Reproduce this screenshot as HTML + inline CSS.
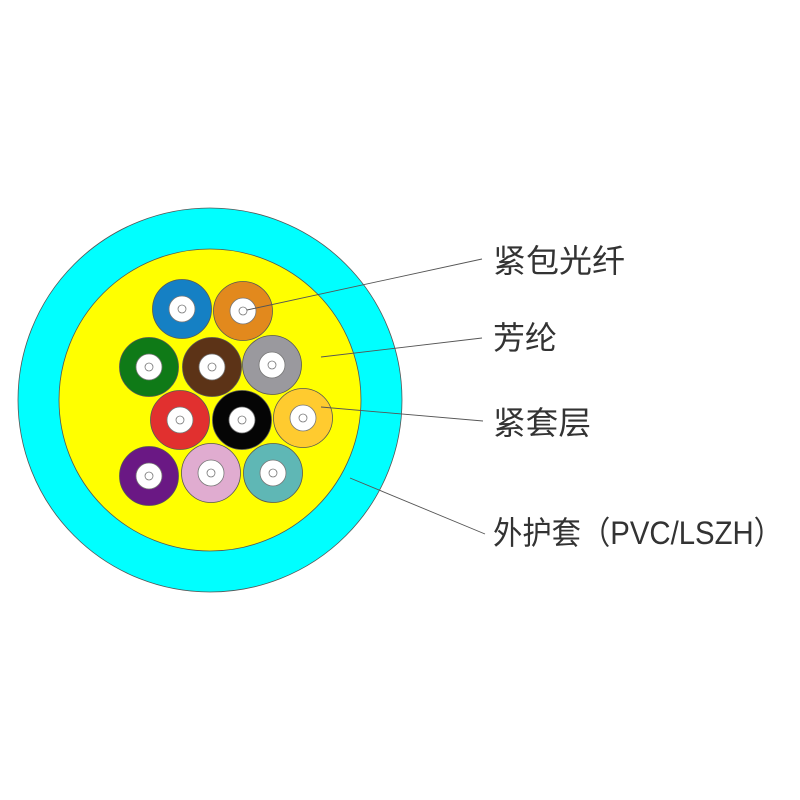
<!DOCTYPE html>
<html><head><meta charset="utf-8"><style>
html,body{margin:0;padding:0;background:#fff;}
svg{display:block;}
text{font-family:"Liberation Sans","Noto Sans CJK SC",sans-serif;fill:#333;font-size:32px;}
</style></head><body>
<svg width="800" height="800" viewBox="0 0 800 800" xmlns="http://www.w3.org/2000/svg">
<circle cx="210" cy="400" r="192" fill="#00ffff" stroke="#555" stroke-width="0.8"/>
<circle cx="210" cy="400" r="151" fill="#ffff00" stroke="#555" stroke-width="0.8"/>
<g stroke="#555" stroke-width="0.8">
<circle cx="182" cy="309" r="29.5" fill="#1580c4"/>
<circle cx="243" cy="311" r="29.5" fill="#e2891d"/>
<circle cx="149" cy="367" r="29.5" fill="#0f7a17"/>
<circle cx="212" cy="367" r="29.5" fill="#5c3317"/>
<circle cx="272" cy="365" r="29.5" fill="#9a999e"/>
<circle cx="180" cy="420" r="29.5" fill="#e1302f"/>
<circle cx="242" cy="420" r="29.5" fill="#050505"/>
<circle cx="303" cy="418" r="29.5" fill="#ffcb2f"/>
<circle cx="149" cy="476" r="29.5" fill="#6a1884"/>
<circle cx="211" cy="473" r="29.5" fill="#e0acd0"/>
<circle cx="273" cy="473" r="29.5" fill="#5fb7b5"/>
</g>
<g fill="#fff" stroke="#777" stroke-width="0.8">
<circle cx="182" cy="309" r="13"/><circle cx="243" cy="311" r="13"/>
<circle cx="149" cy="367" r="13"/><circle cx="212" cy="367" r="13"/><circle cx="272" cy="365" r="13"/>
<circle cx="180" cy="420" r="13"/><circle cx="242" cy="420" r="13"/><circle cx="303" cy="418" r="13"/>
<circle cx="149" cy="476" r="13"/><circle cx="211" cy="473" r="13"/><circle cx="273" cy="473" r="13"/>
</g>
<g fill="none" stroke="#777" stroke-width="0.8">
<circle cx="182" cy="309" r="4"/><circle cx="243" cy="311" r="4"/>
<circle cx="149" cy="367" r="4"/><circle cx="212" cy="367" r="4"/><circle cx="272" cy="365" r="4"/>
<circle cx="180" cy="420" r="4"/><circle cx="242" cy="420" r="4"/><circle cx="303" cy="418" r="4"/>
<circle cx="149" cy="476" r="4"/><circle cx="211" cy="473" r="4"/><circle cx="273" cy="473" r="4"/>
</g>
<g stroke="#555" stroke-width="0.9">
<line x1="247" y1="310" x2="482" y2="259"/>
<line x1="321" y1="357" x2="482" y2="338"/>
<line x1="321" y1="407" x2="483" y2="421"/>
<line x1="350" y1="478" x2="485" y2="534"/>
</g>
<text x="493" y="272" textLength="132" lengthAdjust="spacingAndGlyphs">紧包光纤</text>
<text x="493" y="349" textLength="64" lengthAdjust="spacingAndGlyphs">芳纶</text>
<text x="493" y="434" textLength="98" lengthAdjust="spacingAndGlyphs">紧套层</text>
<text x="493" y="544" textLength="290" lengthAdjust="spacingAndGlyphs">外护套（PVC/LSZH）</text>
</svg>
</body></html>
